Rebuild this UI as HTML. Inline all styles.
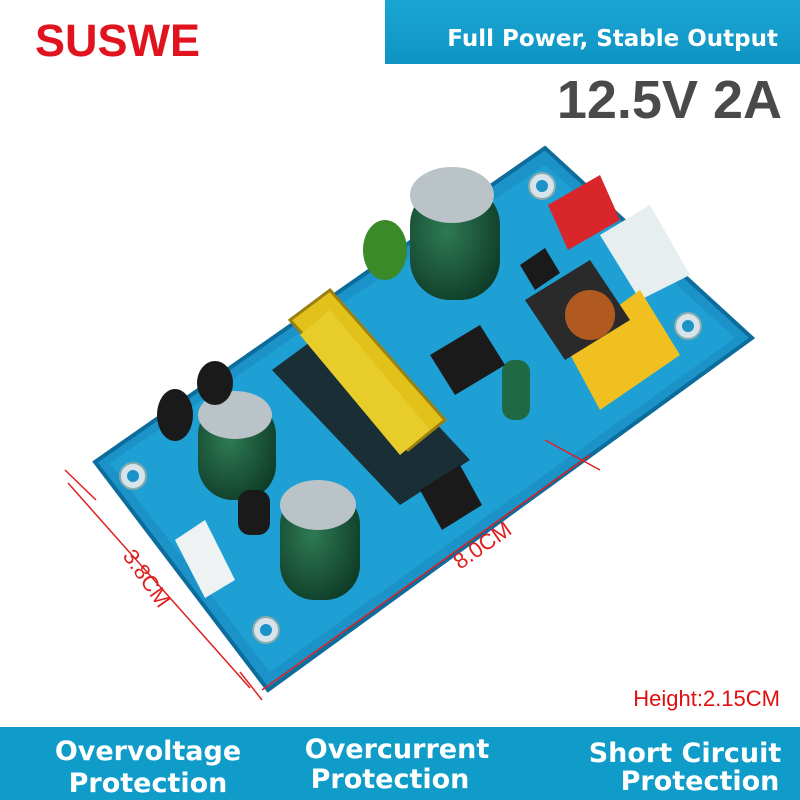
<!DOCTYPE html>
<html><head><style>
body{margin:0;width:800px;height:800px;background:#fff;overflow:hidden;font-family:"Liberation Sans",sans-serif;position:relative}
</style></head><body>
<svg width="800" height="800" style="position:absolute;left:0;top:0">
<defs>
<linearGradient id="bn" x1="0" y1="0" x2="0" y2="1"><stop offset="0" stop-color="#1aa6d3"/><stop offset="1" stop-color="#0f94c4"/></linearGradient>
<radialGradient id="cap" cx="0.4" cy="0.4" r="0.7"><stop offset="0" stop-color="#2e7a55"/><stop offset="1" stop-color="#0e3a26"/></radialGradient>
</defs>
<rect x="385" y="0" width="415" height="64" fill="url(#bn)"/>
<rect x="0" y="727" width="800" height="73" fill="#0f9cc8"/>
<text x="35" y="56" font-family="Liberation Sans" font-weight="bold" font-size="45" fill="#e0141e">SUSWE</text>
<text x="778" y="46" text-anchor="end" font-family="DejaVu Sans" font-weight="bold" font-size="23" fill="#fff">Full Power, Stable Output</text>
<text x="782" y="118" text-anchor="end" font-weight="bold" font-size="54" fill="#4a4a4a">12.5V 2A</text>
<polygon points="95,462 545,148 752,338 268,690" fill="#1b93c8" stroke="#0c6c9c" stroke-width="4"/>
<polygon points="110,463 545,165 735,338 270,672" fill="#1fa0d4"/>
<g fill="#d8e4ec" stroke="#8aa" stroke-width="2">
<circle cx="542" cy="186" r="13"/><circle cx="688" cy="326" r="13"/><circle cx="133" cy="476" r="13"/><circle cx="266" cy="630" r="13"/>
</g>
<g fill="#1b93c8"><circle cx="542" cy="186" r="6"/><circle cx="688" cy="326" r="6"/><circle cx="133" cy="476" r="6"/><circle cx="266" cy="630" r="6"/></g>
<polygon points="272,370 340,320 470,460 400,505" fill="#1a1a1a" opacity="0.85"/>
<polygon points="290,320 330,290 445,420 408,450" fill="#e2c21a" stroke="#9a8010" stroke-width="3"/>
<polygon points="300,335 330,310 430,430 400,455" fill="#e8cc2a"/>
<rect x="410" y="185" width="90" height="115" rx="40" fill="url(#cap)"/>
<ellipse cx="452" cy="195" rx="42" ry="28" fill="#b9c3c8"/>
<rect x="198" y="400" width="78" height="100" rx="35" fill="url(#cap)"/>
<ellipse cx="235" cy="415" rx="37" ry="24" fill="#b9c3c8"/>
<rect x="280" y="490" width="80" height="110" rx="35" fill="url(#cap)"/>
<ellipse cx="318" cy="505" rx="38" ry="25" fill="#b9c3c8"/>
<rect x="502" y="360" width="28" height="60" rx="12" fill="#1f6a44"/>
<ellipse cx="385" cy="250" rx="22" ry="30" fill="#3a8a2a"/>
<polygon points="548,205 600,175 620,220 568,250" fill="#d8262a"/>
<polygon points="600,235 650,205 690,275 640,300" fill="#e6eef0"/>
<polygon points="565,345 640,290 680,355 600,410" fill="#f0c020"/>
<polygon points="525,300 590,260 630,320 565,360" fill="#2a2a2a"/>
<circle cx="590" cy="315" r="25" fill="#b05a20"/>
<polygon points="430,355 480,325 505,365 455,395" fill="#1a1a1a"/>
<polygon points="420,490 460,465 482,505 442,530" fill="#1a1a1a"/>
<polygon points="520,265 545,248 560,273 535,290" fill="#1a1a1a"/>
<ellipse cx="175" cy="415" rx="18" ry="26" fill="#1a1a1a"/>
<ellipse cx="215" cy="383" rx="18" ry="22" fill="#1a1a1a"/>
<rect x="238" y="490" width="32" height="45" rx="12" fill="#1a1a1a"/>
<polygon points="175,540 205,520 235,580 205,598" fill="#eef2f2"/>
<g stroke="#e02020" stroke-width="1.5" fill="none">
<line x1="68" y1="483" x2="250" y2="688"/>
<line x1="240" y1="672" x2="262" y2="700"/>
<line x1="65" y1="470" x2="96" y2="500"/>
<line x1="262" y1="690" x2="590" y2="455"/>
<line x1="545" y1="440" x2="600" y2="470"/>
</g>
<text transform="translate(122,556) rotate(55)" font-size="22" fill="#e02020">3.8CM</text>
<text transform="translate(460,570) rotate(-35)" font-size="22" fill="#e02020">8.0CM</text>
<text x="780" y="706" text-anchor="end" font-size="22" fill="#e01010">Height:2.15CM</text>
<g font-family="DejaVu Sans" font-weight="bold" font-size="27" fill="#fff" text-anchor="middle">
<text x="148" y="760">Overvoltage</text><text x="148" y="792">Protection</text>
<text x="397" y="758">Overcurrent</text><text x="390" y="788">Protection</text>
<text x="685" y="762">Short Circuit</text><text x="700" y="790">Protection</text>
</g>
</svg>
</body></html>
